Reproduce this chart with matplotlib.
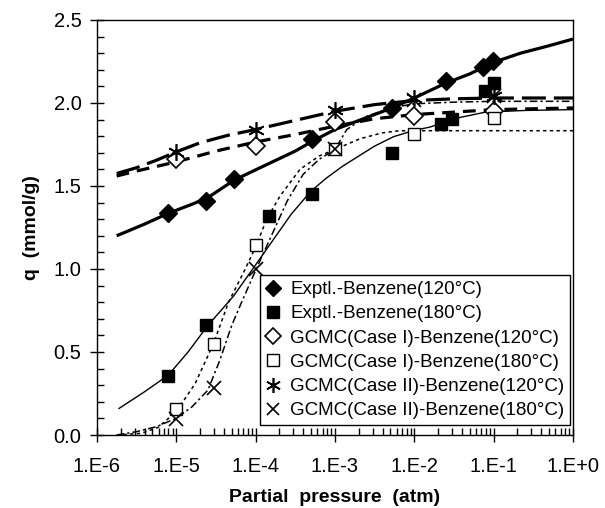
import numpy as np
import matplotlib
matplotlib.use("Agg")
import matplotlib.pyplot as plt
from matplotlib.ticker import FixedLocator, LogLocator, NullFormatter, MultipleLocator

plt.rcParams['font.family'] = ['Liberation Sans', 'DejaVu Sans']

# ---- experimental / simulated points (pressure in atm, q in mmol/g) ----
exp120_p = [7.9e-6, 2.4e-5, 5.4e-5, 5.2e-4, 5.2e-3, 2.5e-2, 7.4e-2, 9.8e-2]
exp120_q = [1.34, 1.41, 1.54, 1.78, 1.97, 2.13, 2.215, 2.25]

exp180_p = [7.9e-6, 2.4e-5, 1.47e-4, 5.2e-4, 5.2e-3, 2.16e-2, 3.0e-2, 7.8e-2, 1.0e-1]
exp180_q = [0.355, 0.66, 1.32, 1.45, 1.70, 1.875, 1.905, 2.07, 2.12]

c1_120_p = [1e-5, 1e-4, 1e-3, 1e-2, 1e-1]
c1_120_q = [1.66, 1.74, 1.885, 1.92, 1.95]

c1_180_p = [1e-5, 3e-5, 1e-4, 1e-3, 1e-2, 1e-1]
c1_180_q = [0.155, 0.55, 1.145, 1.72, 1.815, 1.91]

c2_120_p = [1e-5, 1e-4, 1e-3, 1e-2, 1e-1]
c2_120_q = [1.705, 1.84, 1.96, 2.03, 2.045]

c2_180_p = [1e-5, 3e-5, 1e-4, 1e-3, 1e-2, 1e-1]
c2_180_q = [0.095, 0.285, 1.0, 1.72, 2.02, 2.04]

# ---- fitted / model curves (log10 p, q) ----
fit_exp120_logp = [-5.75, -5.4, -5.1, -4.8, -4.6, -4.27, -3.92, -3.5, -3.28, -3.0, -2.5, -2.28, -2.0, -1.6, -1.3, -1.0, -0.66, -0.3, 0.0]
fit_exp120_q    = [1.20, 1.27, 1.335, 1.39, 1.43, 1.535, 1.615, 1.71, 1.77, 1.84, 1.93, 1.97, 2.03, 2.12, 2.175, 2.245, 2.30, 2.345, 2.385]

fit_exp180_logp = [-5.72, -5.4, -5.1, -4.85, -4.6, -4.28, -4.05, -3.8, -3.55, -3.3, -3.1, -2.9, -2.7, -2.5, -2.26, -2.0, -1.8, -1.5, -1.1, -0.6, 0.0]
fit_exp180_q    = [0.16, 0.26, 0.36, 0.50, 0.66, 0.835, 0.99, 1.16, 1.33, 1.47, 1.55, 1.62, 1.68, 1.74, 1.797, 1.835, 1.855, 1.905, 1.945, 1.955, 1.96]

fit_c1_120_logp = [-5.75, -5.5, -5.0, -4.5, -4.0, -3.5, -3.0, -2.5, -2.0, -1.5, -1.0, -0.5, 0.0]
fit_c1_120_q    = [1.56, 1.59, 1.645, 1.71, 1.765, 1.81, 1.86, 1.905, 1.93, 1.945, 1.96, 1.965, 1.97]

fit_c2_120_logp = [-5.75, -5.5, -5.25, -5.0, -4.7, -4.35, -4.0, -3.5, -3.0, -2.5, -2.0, -1.5, -1.0, -0.5, 0.0]
fit_c2_120_q    = [1.575, 1.61, 1.655, 1.705, 1.76, 1.805, 1.84, 1.895, 1.95, 1.99, 2.015, 2.025, 2.03, 2.03, 2.03]

fit_c1_180_logp = [-5.75, -5.44, -5.23, -5.0, -4.76, -4.53, -4.34, -4.15, -4.0, -3.86, -3.69, -3.44, -3.2, -3.0, -2.68, -2.4, -2.2, -2.0, -1.0, 0.0]
fit_c1_180_q    = [0.0, 0.01, 0.045, 0.14, 0.31, 0.55, 0.80, 0.98, 1.13, 1.30, 1.44, 1.60, 1.68, 1.72, 1.785, 1.82, 1.832, 1.833, 1.833, 1.833]

fit_c2_180_logp = [-5.75, -5.5, -5.25, -5.0, -4.8, -4.6, -4.45, -4.3, -4.175, -4.0, -3.8, -3.6, -3.4, -3.2, -3.0, -2.85, -2.6, -2.3, -2.0, -1.5, -1.0, 0.0]
fit_c2_180_q    = [0.0, 0.02, 0.05, 0.10, 0.17, 0.27, 0.45, 0.66, 0.80, 0.99, 1.20, 1.41, 1.57, 1.66, 1.72, 1.84, 1.92, 1.97, 1.995, 2.005, 2.01, 2.01]

labels = ["Exptl.-Benzene(120\u00b0C)", "Exptl.-Benzene(180\u00b0C)",
          "GCMC(Case I)-Benzene(120\u00b0C)", "GCMC(Case I)-Benzene(180\u00b0C)",
          "GCMC(Case II)-Benzene(120\u00b0C)", "GCMC(Case II)-Benzene(180\u00b0C)"]

xticks = [1e-6, 1e-5, 1e-4, 1e-3, 1e-2, 1e-1, 1e0]
xticklabels = ["1.E-6", "1.E-5", "1.E-4", "1.E-3", "1.E-2", "1.E-1", "1.E+0"]
yticks = [0.0, 0.5, 1.0, 1.5, 2.0, 2.5]
yticklabels = ["0.0", "0.5", "1.0", "1.5", "2.0", "2.5"]

fig = plt.figure(figsize=(6.05, 5.08), dpi=100)
ax = fig.add_axes([0.160, 0.1437, 0.787, 0.817])

def lp(a):
    return 10 ** np.asarray(a)

# curves
ax.plot(lp(fit_exp120_logp), fit_exp120_q, color='black', lw=2.3, solid_capstyle='butt')
ax.plot(lp(fit_exp180_logp), fit_exp180_q, color='black', lw=1.0)
ax.plot(lp(fit_c1_120_logp), fit_c1_120_q, color='black', lw=2.3, dashes=(4, 2.5))
ax.plot(lp(fit_c2_120_logp), fit_c2_120_q, color='black', lw=2.3, dashes=(7.5, 2.5))
ax.plot(lp(fit_c1_180_logp), fit_c1_180_q, color='black', lw=1.1, dashes=(2.2, 2.2))
ax.plot(lp(fit_c2_180_logp), fit_c2_180_q, color='black', lw=1.1, dashes=(5, 2, 1.5, 2))

# markers
h1, = ax.plot(exp120_p, exp120_q, ls='none', marker='D', ms=9, mfc='black', mec='black')
h2, = ax.plot(exp180_p, exp180_q, ls='none', marker='s', ms=9, mfc='black', mec='black')
h3, = ax.plot(c1_120_p, c1_120_q, ls='none', marker='D', ms=9, mfc='white', mec='black', mew=1.2)
h4, = ax.plot(c1_180_p, c1_180_q, ls='none', marker='s', ms=9, mfc='white', mec='black', mew=1.0)
h5, = ax.plot(c2_120_p, c2_120_q, ls='none', marker=(6, 2, 0), ms=12, mec='black', mew=1.2)
h6, = ax.plot(c2_180_p, c2_180_q, ls='none', marker='x', ms=10, mec='black', mew=1.2)

ax.set_xscale('log')
ax.set_xlim(1e-6, 1e0)
ax.set_ylim(0, 2.5)

ax.xaxis.set_major_locator(FixedLocator(xticks))
ax.set_xticklabels(xticklabels)
ax.xaxis.set_minor_locator(LogLocator(base=10, subs=np.arange(2, 10)))
ax.xaxis.set_minor_formatter(NullFormatter())
ax.set_yticks(yticks)
ax.set_yticklabels(yticklabels)
ax.yaxis.set_minor_locator(MultipleLocator(0.1))

ax.tick_params(axis='both', which='major', direction='inout', length=10, width=1.0,
               labelsize=14.5, top=False, right=False)
ax.tick_params(axis='x', which='major', pad=11)
ax.tick_params(axis='y', which='major', pad=6)
ax.tick_params(axis='both', which='minor', direction='in', length=5, width=1.0,
               top=False, right=False)
for s in ax.spines.values():
    s.set_linewidth(1.0)

ax.set_xlabel("Partial  pressure  (atm)", fontsize=14, fontweight='bold', labelpad=9)
ax.set_ylabel("q  (mmol/g)", fontsize=14, fontweight='bold', labelpad=10)

leg = ax.legend([h1, h2, h3, h4, h5, h6], labels, loc='lower right',
                bbox_to_anchor=(0.994, 0.024), fontsize=13.5, frameon=True,
                fancybox=False, edgecolor='black', framealpha=1,
                handlelength=0.8, handletextpad=0.5, labelspacing=0.38,
                borderpad=0.3, borderaxespad=0.0, markerscale=0.9)
leg.get_frame().set_linewidth(1.0)

fig.savefig("out.png", dpi=100)
